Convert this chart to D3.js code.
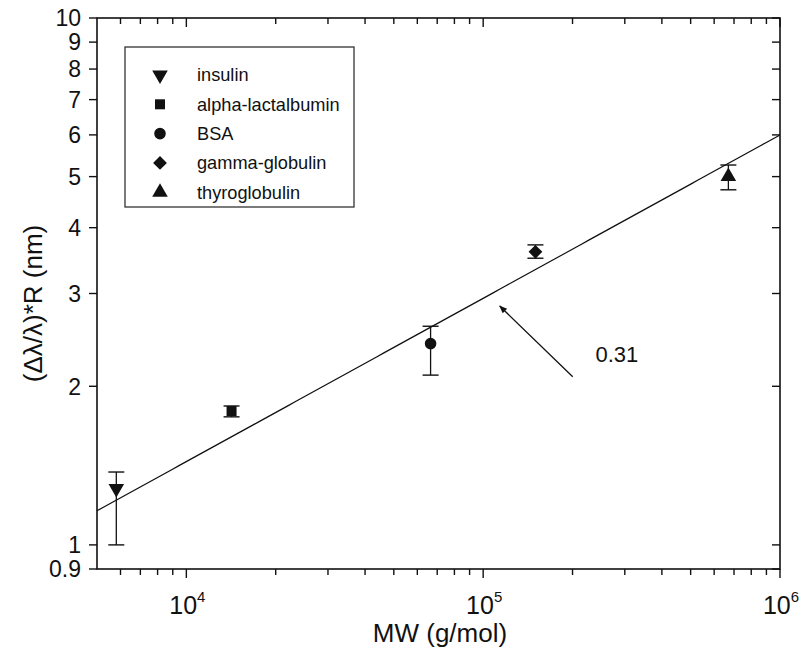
<!DOCTYPE html>
<html>
<head>
<meta charset="utf-8">
<script src="https://cdn.jsdelivr.net/npm/d3@7"></script>
<style>
  html, body { margin: 0; padding: 0; background: #fff; }
  svg { display: block; font-family: "Liberation Sans", Arial, sans-serif; }
</style>
</head>
<body>
<svg id="chart" width="802" height="652"></svg>
<script>
// Proteins, molecular weight (g/mol) and (Δλ/λ)*R (nm) with error limits
const proteins = ["insulin", "alpha-lactalbumin", "BSA", "gamma-globulin", "thyroglobulin"];
const mw       = [5808, 14200, 66500, 150000, 670000];
const value    = [1.28, 1.795, 2.41, 3.60, 5.00];
const errLow   = [1.00, 1.75, 2.10, 3.50, 4.72];
const errHigh  = [1.375, 1.835, 2.60, 3.71, 5.26];
const shapes   = ["triangleDown", "square", "circle", "diamond", "triangleUp"];

// Power-law fit y = a * MW^b
const fitExponent = 0.31;
const fitPrefactor = 0.0828;
const fitLabel = "0.31";
// Arrow pointing at the fit: tip, tail, label anchor (data units)
const arrowTip = [113700, 2.84];
const arrowTail = [200300, 2.085];
const labelPos = [239000, 2.225];

const yTicks = [0.9, 1, 2, 3, 4, 5, 6, 7, 8, 9, 10];
const xMajor = [1e4, 1e5, 1e6];
const xMinor = [6000, 7000, 8000, 9000, 2e4, 3e4, 4e4, 5e4, 6e4, 7e4, 8e4, 9e4,
                2e5, 3e5, 4e5, 5e5, 6e5, 7e5, 8e5, 9e5];

const svg = d3.select("#chart");
const L = 97, R = 780, T = 18, B = 569;

const x = d3.scaleLog().domain([5000, 1e6]).range([L, R]);
const y = d3.scaleLog().domain([0.9, 10]).range([B, T]);

const ink = "#111";

// Frame
svg.append("rect").attr("x", L).attr("y", T).attr("width", R - L).attr("height", B - T)
  .attr("fill", "none").attr("stroke", ink).attr("stroke-width", 1.6);

// Bottom axis: outward ticks; top axis: inward ticks
const gB = svg.append("g");
function xTick(v, len) {
  gB.append("line").attr("x1", x(v)).attr("x2", x(v)).attr("y1", B).attr("y2", B + len)
    .attr("stroke", ink).attr("stroke-width", 1.4);
  gB.append("line").attr("x1", x(v)).attr("x2", x(v)).attr("y1", T).attr("y2", T + len)
    .attr("stroke", ink).attr("stroke-width", 1.4);
}
xMajor.forEach(v => xTick(v, 9));
xMinor.forEach(v => xTick(v, 6));

// Bottom tick labels as powers of ten
xMajor.forEach(v => {
  const t = gB.append("text").attr("x", x(v) + 1).attr("y", 614).attr("text-anchor", "middle")
    .attr("font-family", "'Liberation Sans Narrow', 'Liberation Sans', sans-serif")
    .attr("font-size", 25).attr("fill", ink);
  t.append("tspan").text("10");
  t.append("tspan").attr("dy", -12).attr("font-size", 15).text(Math.round(Math.log10(v)));
});

// Left axis: outward ticks with labels; right axis: inward ticks
const gL = svg.append("g");
yTicks.forEach(v => {
  gL.append("line").attr("x1", L - 8).attr("x2", L).attr("y1", y(v)).attr("y2", y(v))
    .attr("stroke", ink).attr("stroke-width", 1.4);
  gL.append("line").attr("x1", R - 8).attr("x2", R).attr("y1", y(v)).attr("y2", y(v))
    .attr("stroke", ink).attr("stroke-width", 1.4);
  gL.append("text").attr("x", 81).attr("y", y(v)).attr("dy", "0.36em").attr("text-anchor", "end")
    .attr("font-size", 23).attr("fill", ink).text(v);
});

// Axis titles
svg.append("text").attr("x", 440).attr("y", 642).attr("text-anchor", "middle")
  .attr("font-size", 26).attr("fill", ink).text("MW (g/mol)");
svg.append("text").attr("transform", `translate(42,${(T + B) / 2 + 10}) rotate(-90)`)
  .attr("text-anchor", "middle").attr("font-size", 26).attr("fill", ink).text("(Δλ/λ)*R (nm)");

// Fit line
const fit = m => fitPrefactor * Math.pow(m, fitExponent);
const fitPts = d3.range(0, 101).map(i => 5000 * Math.pow(200, i / 100));
svg.append("path")
  .attr("d", d3.line().x(d => x(d)).y(d => y(fit(d)))(fitPts))
  .attr("fill", "none").attr("stroke", ink).attr("stroke-width", 1.3);

// Marker shapes
function symbolPath(kind) {
  switch (kind) {
    case "triangleDown": return { d: d3.symbol(d3.symbolTriangle, 105)(), rot: 180 };
    case "triangleUp": return { d: d3.symbol(d3.symbolTriangle, 105)(), rot: 0 };
    case "square": return { d: d3.symbol(d3.symbolSquare, 100)(), rot: 0 };
    case "circle": return { d: d3.symbol(d3.symbolCircle, 105)(), rot: 0 };
    case "diamond": return { d: d3.symbol(d3.symbolSquare, 95)(), rot: 45 };
  }
}

// Error bars and markers
const gP = svg.append("g");
proteins.forEach((p, i) => {
  const cx = x(mw[i]);
  gP.append("line").attr("x1", cx).attr("x2", cx).attr("y1", y(errLow[i])).attr("y2", y(errHigh[i]))
    .attr("stroke", ink).attr("stroke-width", 1.3);
  [errLow[i], errHigh[i]].forEach(e => gP.append("line")
    .attr("x1", cx - 8).attr("x2", cx + 8).attr("y1", y(e)).attr("y2", y(e))
    .attr("stroke", ink).attr("stroke-width", 1.4));
  const s = symbolPath(shapes[i]);
  gP.append("path").attr("d", s.d)
    .attr("transform", `translate(${cx},${y(value[i])}) rotate(${s.rot})`).attr("fill", ink);
});

// Legend
const gLeg = svg.append("g");
gLeg.append("rect").attr("x", 125).attr("y", 47).attr("width", 229).attr("height", 160)
  .attr("fill", "#fff").attr("stroke", "#333").attr("stroke-width", 1.3);
proteins.forEach((p, i) => {
  const ly = 75 + i * 29.3;
  const s = symbolPath(shapes[i]);
  gLeg.append("path").attr("d", s.d).attr("transform", `translate(160,${ly}) rotate(${s.rot})`).attr("fill", ink);
  gLeg.append("text").attr("x", 197).attr("y", ly).attr("dy", "0.35em").attr("font-size", 18.2)
    .attr("fill", ink).text(p);
});

// Arrow annotation for the fitted exponent
const defs = svg.append("defs");
defs.append("marker").attr("id", "head").attr("viewBox", "0 0 10 10").attr("refX", 9).attr("refY", 5)
  .attr("markerWidth", 10).attr("markerHeight", 8).attr("markerUnits", "userSpaceOnUse").attr("orient", "auto")
  .append("path").attr("d", "M0,1 L10,5 L0,9 Z").attr("fill", ink);
svg.append("line")
  .attr("x1", x(arrowTail[0])).attr("y1", y(arrowTail[1]))
  .attr("x2", x(arrowTip[0])).attr("y2", y(arrowTip[1]))
  .attr("stroke", ink).attr("stroke-width", 1.3).attr("marker-end", "url(#head)");
svg.append("text").attr("x", x(labelPos[0])).attr("y", y(labelPos[1]))
  .attr("font-size", 22).attr("fill", ink).text(fitLabel);
</script>
</body>
</html>
